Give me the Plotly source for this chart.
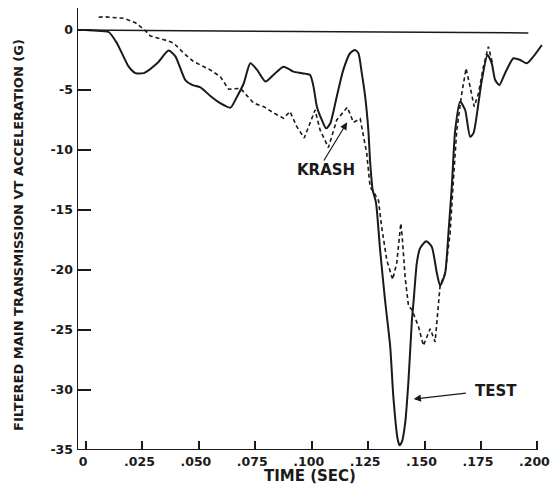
import plotly.graph_objects as go

# TEST (solid) curve
test_t = [0.0, 0.0034, 0.0100, 0.0137, 0.0189, 0.0219, 0.0256, 0.0315, 0.0366, 0.0396,
          0.0440, 0.0470, 0.0507, 0.0551, 0.0595, 0.0640, 0.0669, 0.0699, 0.0728, 0.0758,
          0.0795, 0.0830, 0.0875, 0.0919, 0.0956, 0.0993, 0.1008, 0.1023, 0.1045, 0.1064,
          0.1082, 0.1111, 0.1140, 0.1170, 0.1192, 0.1207, 0.1222, 0.1237, 0.1251, 0.1259,
          0.1270, 0.1285, 0.1303, 0.1325, 0.1348, 0.1362, 0.1380, 0.1389, 0.1400, 0.1414,
          0.1429, 0.1444, 0.1452, 0.1466, 0.1480, 0.1507, 0.1532, 0.1555, 0.1569, 0.1591,
          0.1606, 0.1621, 0.1636, 0.1658, 0.1680, 0.1702, 0.1717, 0.1739, 0.1754, 0.1779,
          0.1798, 0.1813, 0.1832, 0.1857, 0.1894, 0.1924, 0.1953, 0.1983, 0.2020]
test_g = [0.0, -0.05, -0.17, -1.1, -3.06, -3.6, -3.6, -2.78, -1.72, -2.2,
          -4.17, -4.58, -4.78, -5.5, -6.1, -6.47, -5.56, -4.44, -2.78, -3.33,
          -4.3, -3.75, -3.06, -3.47, -3.6, -3.75, -4.72, -6.39, -7.5, -8.2,
          -7.8, -5.56, -3.33, -1.94, -1.67, -1.94, -3.6, -5.56, -8.33, -11.0,
          -13.3, -14.4, -18.3, -22.5, -26.4, -30.6, -34.0, -34.6, -34.3, -32.8,
          -29.2, -24.2, -22.5, -19.4, -18.2, -17.6, -18.06, -20.3, -21.3, -20.3,
          -16.9, -13.0, -8.33, -5.97, -6.67, -8.9, -8.6, -6.1, -4.17, -2.08,
          -2.78, -4.17, -4.58, -3.6, -2.36, -2.5, -2.78, -2.2, -1.25]

# KRASH (dashed) curve
krash_t = [0.0056, 0.0080, 0.0167, 0.0219, 0.0263, 0.0285, 0.0359, 0.0389, 0.0433, 0.0477,
           0.0551, 0.0595, 0.0632, 0.0684, 0.0743, 0.0788, 0.0830, 0.0875, 0.0904, 0.0934,
           0.0967, 0.1008, 0.1015, 0.1037, 0.1074, 0.1111, 0.1158, 0.1185, 0.1215, 0.1244,
           0.1259, 0.1274, 0.1296, 0.1310, 0.1333, 0.1359, 0.1377, 0.1395, 0.1401, 0.1414,
           0.1429, 0.1444, 0.1473, 0.1495, 0.1525, 0.1547, 0.1562, 0.1569, 0.1591, 0.1613,
           0.1628, 0.1643, 0.1665, 0.1684, 0.1702, 0.1720, 0.1739, 0.1761, 0.1783, 0.1800]
krash_g = [1.06, 1.1, 0.97, 0.6, -0.06, -0.5, -0.89, -1.1, -1.94, -2.64,
           -3.33, -3.89, -4.94, -4.86, -6.1, -6.39, -6.9, -7.36, -6.8, -8.06,
           -9.0, -6.9, -6.67, -8.33, -9.8, -7.5, -6.44, -7.7, -7.4, -10.3,
           -13.1, -13.5, -14.2, -16.4, -19.2, -20.8, -19.4, -16.1, -17.2, -20.6,
           -23.0, -23.3, -24.7, -26.3, -24.9, -26.0, -22.5, -21.3, -20.3, -17.0,
           -12.5, -8.33, -5.3, -3.2, -4.72, -6.39, -5.3, -3.06, -1.39, -2.7]

x_ticks = [0, 0.025, 0.050, 0.075, 0.100, 0.125, 0.150, 0.175, 0.200]
x_tick_labels = ["0", ".025", ".050", ".075", ".100", ".125", ".150", ".175", ".200"]
y_ticks = [0, -5, -10, -15, -20, -25, -30, -35]
y_tick_labels = ["0", "-5", "-10", "-15", "-20", "-25", "-30", "-35"]

ink = "#1a1a1a"
fam = "DejaVu Sans, Liberation Sans, Arial, sans-serif"
font = dict(family=fam, size=13, color=ink, weight="bold")
tick_font = dict(family=fam, size=12.5, color=ink, weight="bold")
label_font = dict(family=fam, size=15, color=ink, weight="bold")

fig = go.Figure()
fig.add_trace(go.Scatter(x=test_t, y=test_g, mode="lines", name="TEST",
                         line=dict(color=ink, width=2, shape="spline", smoothing=0.6)))
fig.add_trace(go.Scatter(x=krash_t, y=krash_g, mode="lines", name="KRASH",
                         line=dict(color=ink, width=1.6, dash="4px,3px")))

# the page body adds an 8px offset; figure is sized to fit inside the window
W, H = 546, 478
ML, MR, MT, MB = 69, 11, 0, 36
PW, PH = W - ML - MR, H - MT - MB
XMIN, XMAX = -0.004, 0.2025
YMIN, YMAX = -35, 1.83

fig.update_layout(
    width=W, height=H,
    margin=dict(l=ML, r=MR, t=MT, b=MB, pad=0, autoexpand=False),
    paper_bgcolor="white", plot_bgcolor="white",
    showlegend=False,
    font=font,
    xaxis=dict(range=[XMIN, XMAX], tickvals=x_ticks, ticktext=x_tick_labels,
               ticks="inside", ticklen=9, tickwidth=2, tickcolor=ink,
               showgrid=False, zeroline=False, showline=False, automargin=False,
               tickfont=tick_font, ticklabelstandoff=2, ticklabelshift=-3,
               ticklabeloverflow="allow"),
    yaxis=dict(range=[YMIN, YMAX], tickvals=y_ticks, ticktext=y_tick_labels,
               ticks="inside", ticklen=14, tickwidth=2, tickcolor=ink,
               showgrid=False, zeroline=False, showline=False, automargin=False,
               tickfont=tick_font, ticklabelstandoff=3, ticklabeloverflow="allow"),
    shapes=[
        dict(type="line", xref="x", yref="y", x0=XMIN, x1=0.200, y0=YMIN, y1=YMIN,
             line=dict(color=ink, width=2)),
        dict(type="line", xref="x", yref="y", x0=XMIN, x1=XMIN, y0=YMIN, y1=YMAX,
             line=dict(color=ink, width=2)),
        dict(type="line", xref="x", yref="y", x0=XMIN, x1=0.196, y0=0, y1=-0.25,
             line=dict(color=ink, width=1.5)),
    ],
    annotations=[
        dict(text="KRASH", x=0.1065, y=-11.7, xref="x", yref="y", showarrow=False,
             font=label_font),
        dict(text="", x=0.1157, y=-7.7, ax=0.1050, ay=-11.0, xref="x", yref="y",
             axref="x", ayref="y", showarrow=True, arrowhead=2, arrowsize=1.2,
             arrowwidth=1.2, arrowcolor=ink),
        dict(text="TEST", x=0.1815, y=-30.1, xref="x", yref="y", showarrow=False,
             font=label_font),
        dict(text="", x=0.1452, y=-30.75, ax=0.1690, ay=-30.25, xref="x", yref="y",
             axref="x", ayref="y", showarrow=True, arrowhead=2, arrowsize=1.2,
             arrowwidth=1.2, arrowcolor=ink),
        dict(text="FILTERED MAIN TRANSMISSION VT ACCELERATION (G)", textangle=-90,
             xref="paper", yref="paper", x=(19 - 77) / PW, y=(450 - 235) / PH,
             xanchor="center", yanchor="middle", showarrow=False, font=font),
        dict(text="TIME (SEC)", xref="paper", yref="paper",
             x=(310 - 77) / PW, y=-(476 - 450) / PH,
             xanchor="center", yanchor="middle", showarrow=False, font=label_font),
    ],
)

fig.write_html("out.html")
